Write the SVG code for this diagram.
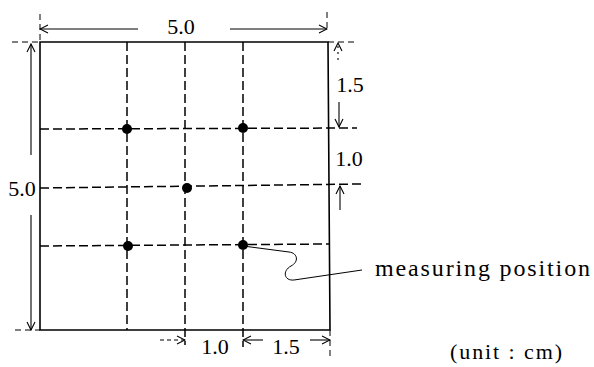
<svg xmlns="http://www.w3.org/2000/svg" width="594" height="367" viewBox="0 0 594 367">
<defs>
<style>
.t{font-family:"Liberation Serif","Times New Roman",serif;fill:#000;}
.solid{stroke:#000;stroke-width:1.6;fill:none;}
.grid{stroke:#000;stroke-width:1.5;fill:none;stroke-dasharray:9 4;}
.ext{stroke:#000;stroke-width:1;fill:none;stroke-dasharray:6 4;}
.dim{stroke:#000;stroke-width:1.1;fill:none;}
.thin{stroke:#000;stroke-width:1;fill:none;}
</style>
<marker id="ah" markerWidth="10" markerHeight="10" refX="9" refY="5" orient="auto" markerUnits="userSpaceOnUse">
<path d="M1,1 L9,5 L1,9" fill="none" stroke="#000" stroke-width="1.1"/>
</marker>
</defs>
<rect width="594" height="367" fill="#fff"/>

<g id="plate">
<path class="solid" d="M40,42 L328,42 L330,330 L40,330 Z"/>
</g>

<g id="grid">
<line class="grid" x1="127" y1="42" x2="127" y2="330"/>
<line class="grid" x1="185" y1="42" x2="185" y2="345"/>
<line class="grid" x1="243" y1="42" x2="243" y2="347"/>
<line class="grid" x1="40" y1="129" x2="357" y2="128"/>
<line class="grid" x1="40" y1="188" x2="362" y2="184"/>
<line class="grid" x1="40" y1="246" x2="329" y2="244"/>
</g>

<g id="extensions">
<line class="ext" x1="40" y1="14" x2="40" y2="42"/>
<line class="ext" x1="327" y1="12" x2="327" y2="32"/>
<line class="ext" x1="12" y1="42" x2="40" y2="42"/>
<line class="ext" x1="328" y1="42" x2="357" y2="42"/>
<line class="ext" x1="15" y1="330" x2="40" y2="330"/>
<line class="ext" x1="330" y1="330" x2="330" y2="356"/>
</g>

<g id="connectors">
<line class="dim" x1="138" y1="29" x2="40" y2="29" marker-end="url(#ah)"/>
<line class="dim" x1="230" y1="29" x2="327" y2="29" marker-end="url(#ah)"/>
<line class="dim" x1="31" y1="155" x2="31" y2="44" marker-end="url(#ah)"/>
<line class="dim" x1="31" y1="215" x2="31" y2="330" marker-end="url(#ah)"/>
<line class="dim" stroke-dasharray="2 4" x1="338" y1="60" x2="338" y2="43" marker-end="url(#ah)"/>
<line class="dim" x1="339" y1="102" x2="339" y2="127" marker-end="url(#ah)"/>
<line class="dim" x1="340" y1="210" x2="340" y2="186" marker-end="url(#ah)"/>
<line class="dim" stroke-dasharray="4 3" x1="160" y1="340" x2="185" y2="340" marker-end="url(#ah)"/>
<line class="dim" x1="263" y1="340" x2="243" y2="340" marker-end="url(#ah)"/>
<line class="dim" x1="310" y1="340" x2="330" y2="340" marker-end="url(#ah)"/>
<path id="leader" class="thin" d="M243,246 L289,252 C298,253 299,262 291,266 C282,271 284,281 294,280 L362,270"/>
</g>

<g id="points">
<circle id="p1" cx="127" cy="129" r="5"/>
<circle id="p2" cx="243" cy="128" r="5"/>
<circle id="p3" cx="187" cy="188" r="5"/>
<circle id="p4" cx="128" cy="246" r="5"/>
<circle id="p5" cx="243" cy="245" r="5"/>
</g>

<g id="labels">
<text class="t" x="181" y="34" font-size="22" text-anchor="middle">5.0</text>
<text class="t" x="22" y="196" font-size="22" text-anchor="middle">5.0</text>
<text class="t" x="350" y="92" font-size="22" text-anchor="middle">1.5</text>
<text class="t" x="349" y="166" font-size="22" text-anchor="middle">1.0</text>
<text class="t" x="215" y="354" font-size="22" text-anchor="middle">1.0</text>
<text class="t" x="286" y="354" font-size="22" text-anchor="middle">1.5</text>
<text class="t" x="375" y="276" font-size="24" textLength="215" lengthAdjust="spacing">measuring position</text>
<text class="t" x="450" y="359" font-size="22" textLength="112" lengthAdjust="spacing">(unit : cm)</text>
</g>
</svg>
